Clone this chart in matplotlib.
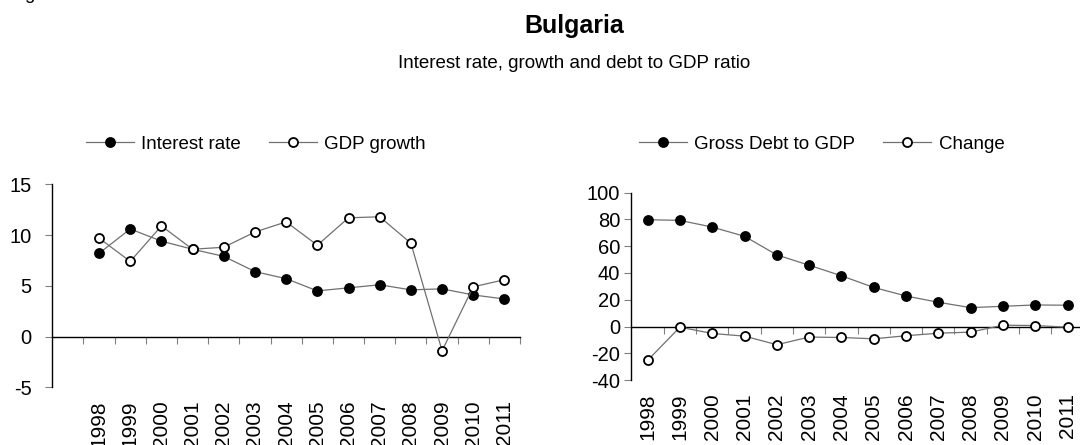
import matplotlib
matplotlib.use("Agg")
import matplotlib.pyplot as plt
import numpy as np

plt.rcParams['font.family'] = ['Liberation Sans', 'DejaVu Sans']

# data
years = ['1998', '1999', '2000', '2001', '2002', '2003', '2004',
         '2005', '2006', '2007', '2008', '2009', '2010', '2011']
interest_rate = [8.2, 10.6, 9.4, 8.6, 7.9, 6.4, 5.7, 4.5, 4.8, 5.1, 4.6, 4.7, 4.1, 3.7]
gdp_growth = [9.7, 7.4, 10.9, 8.6, 8.8, 10.3, 11.3, 9.0, 11.7, 11.8, 9.2, -1.4, 4.9, 5.6]
gross_debt = [79.8, 79.3, 74.3, 67.4, 53.5, 45.8, 37.9, 29.2, 22.8, 18.1, 14.1, 15.1, 16.1, 15.9]
debt_change = [-25.3, -0.5, -5.2, -7.2, -13.6, -7.9, -8.2, -9.2, -6.9, -5.0, -4.2, 1.0, 0.7, -0.5]

FS = 13.5       # legend / subtitle
TICK_FS = 14.5  # axis numbers
YEAR_FS = 15    # year labels
LINE_COL = '#707070'
TICK_COL = '#808080'


def draw_series(ax, x, y, filled, label):
    face = 'black' if filled else 'white'
    ax.plot(x, y, color=LINE_COL, lw=0.9, marker='o', markersize=6.5,
            markerfacecolor=face, markeredgecolor='black', markeredgewidth=1.3,
            label=label, zorder=3, clip_on=False)


def style_axes(ax, centers, boundaries, yticks, ylim, xlim, ypad, xpad):
    ax.set_ylim(ylim)
    ax.set_xlim(xlim)
    ax.set_yticks(yticks)
    ax.set_yticklabels([str(v) for v in yticks], fontsize=TICK_FS)
    ax.tick_params(axis='y', length=5, color=TICK_COL, pad=ypad)
    ax.set_xticks(centers)
    ax.set_xticklabels(years, rotation=90, fontsize=YEAR_FS)
    ax.tick_params(axis='x', length=0, pad=xpad)
    for s in ['top', 'right', 'bottom']:
        ax.spines[s].set_visible(False)
    ax.spines['left'].set_color('black')
    ax.spines['left'].set_linewidth(1.0)
    # zero line with category separators
    sec = ax.secondary_xaxis(0, transform=ax.transData)
    sec.set_xticks(boundaries)
    sec.set_xticklabels([])
    sec.tick_params(length=5, color=TICK_COL, direction='out')
    sec.spines['bottom'].set_color('black')
    sec.spines['bottom'].set_linewidth(1.0)


fig = plt.figure(figsize=(10.8, 4.45), dpi=100)

# left panel: one empty category before 1998
ax1 = fig.add_axes([0.0484, 0.1297, 0.4331, 0.4561])
x1 = np.arange(len(years)) + 1
draw_series(ax1, x1, interest_rate, True, 'Interest rate')
draw_series(ax1, x1, gdp_growth, False, 'GDP growth')
style_axes(ax1, x1, np.arange(0.5, 15, 1.0), [-5, 0, 5, 10, 15], (-5, 15),
           (-0.5, 14.5), ypad=10, xpad=9.5)

# right panel
ax2 = fig.add_axes([0.5847, 0.146, 0.4187, 0.421])
x2 = np.arange(len(years))
draw_series(ax2, x2, gross_debt, True, 'Gross Debt to GDP')
draw_series(ax2, x2, debt_change, False, 'Change')
style_axes(ax2, x2, np.arange(0.5, 14, 1.0), list(range(-40, 101, 20)), (-40, 100),
           (-0.5, 13.5), ypad=3, xpad=9.5)

leg_kw = dict(ncol=2, frameon=False, fontsize=FS, handlelength=2.55,
              handletextpad=0.4, columnspacing=1.5, borderpad=0, borderaxespad=0,
              loc='center left')
fig.legend(*ax1.get_legend_handles_labels(), bbox_to_anchor=(86 / 1080, 1 - 144 / 445), **leg_kw)
fig.legend(*ax2.get_legend_handles_labels(), bbox_to_anchor=(639 / 1080, 1 - 144 / 445), **leg_kw)

fig.text(574 / 1080, 1 - 33 / 445, 'Bulgaria', ha='center', va='baseline',
         fontsize=18, fontweight='bold')
fig.text(574 / 1080, 1 - 68 / 445, 'Interest rate, growth and debt to GDP ratio',
         ha='center', va='baseline', fontsize=FS)
# cut-off text at the very top left of the reference
fig.text(24 / 1080, 1 + 1 / 445, 'g', ha='left', va='baseline', fontsize=FS)

fig.savefig('out.png', dpi=100)
